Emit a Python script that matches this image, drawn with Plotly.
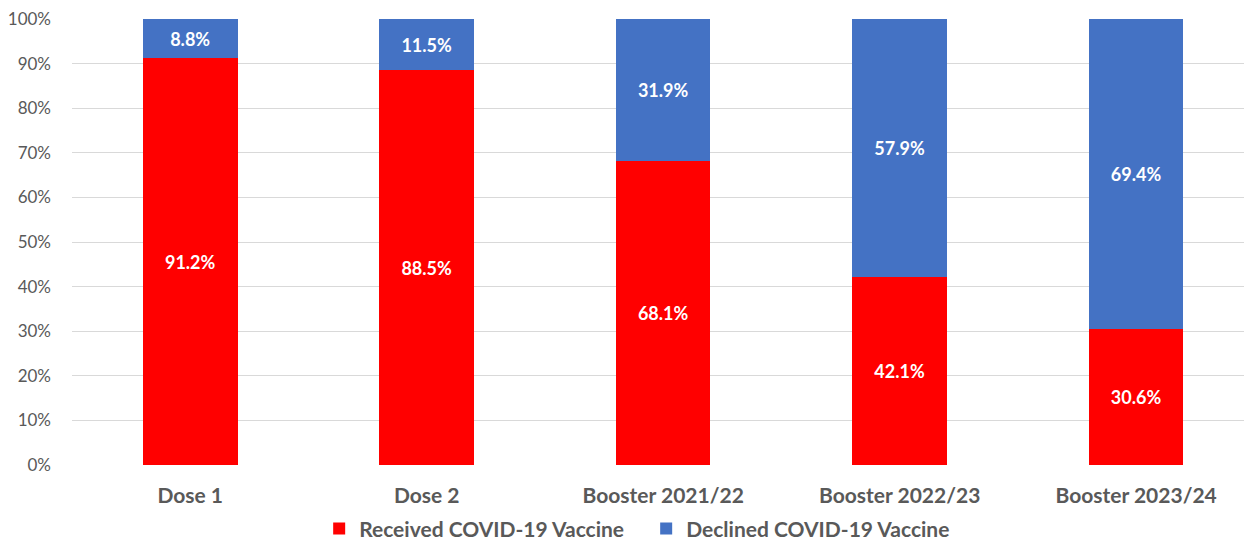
import plotly.graph_objects as go

categories = ["Dose 1", "Dose 2", "Booster 2021/22", "Booster 2022/23", "Booster 2023/24"]
received = [91.2, 88.5, 68.1, 42.1, 30.6]
declined = [8.8, 11.5, 31.9, 57.9, 69.4]
tick_vals = [0, 10, 20, 30, 40, 50, 60, 70, 80, 90, 100]
tick_text = [f"{v}%" for v in tick_vals]

FONT = "Lato"
fig = go.Figure()
fig.add_trace(go.Bar(
    x=categories, y=received, name="Received COVID-19 Vaccine",
    marker=dict(color="#FF0000", line=dict(width=0)),
    text=[f"{v:.1f}%" for v in received], textposition="inside",
    insidetextanchor="middle", textangle=0,
    textfont=dict(color="white", size=18, family=FONT, weight="bold"),
))
fig.add_trace(go.Bar(
    x=categories, y=declined, name="Declined COVID-19 Vaccine",
    marker=dict(color="#4472C4", line=dict(width=0)),
    text=[f"{v:.1f}%" for v in declined], textposition="inside",
    insidetextanchor="middle", textangle=0,
    textfont=dict(color="white", size=18, family=FONT, weight="bold"),
))
fig.update_layout(
    barmode="stack", bargap=0.6,
    width=1244, height=537,
    margin=dict(l=64, r=0, t=11, b=80, autoexpand=False),
    plot_bgcolor="white", paper_bgcolor="white",
    uniformtext=dict(minsize=8, mode="show"),
    font=dict(family=FONT, color="#595959"),
    xaxis=dict(range=[-0.5, 4.49], showgrid=False, showline=False, ticks="",
               automargin=False, ticklabelstandoff=16, ticklabeloverflow="allow",
               tickfont=dict(size=21, family=FONT, color="#595959", weight="bold")),
    yaxis=dict(range=[0, 100], tickvals=tick_vals, ticktext=tick_text,
               showgrid=True, gridcolor="#D9D9D9", gridwidth=1, zeroline=False,
               showline=False, ticks="", ticklabelstandoff=20, automargin=False,
               ticklabeloverflow="allow",
               tickfont=dict(size=17, family=FONT, color="#595959")),
    legend=dict(orientation="h", x=0.513, xanchor="center", xref="container",
                y=0.03, yanchor="middle", yref="container",
                font=dict(size=21, family=FONT, color="#595959", weight="bold"),
                traceorder="normal", itemwidth=30, entrywidth=282),
    showlegend=True,
)
fig.write_html("out.html")
